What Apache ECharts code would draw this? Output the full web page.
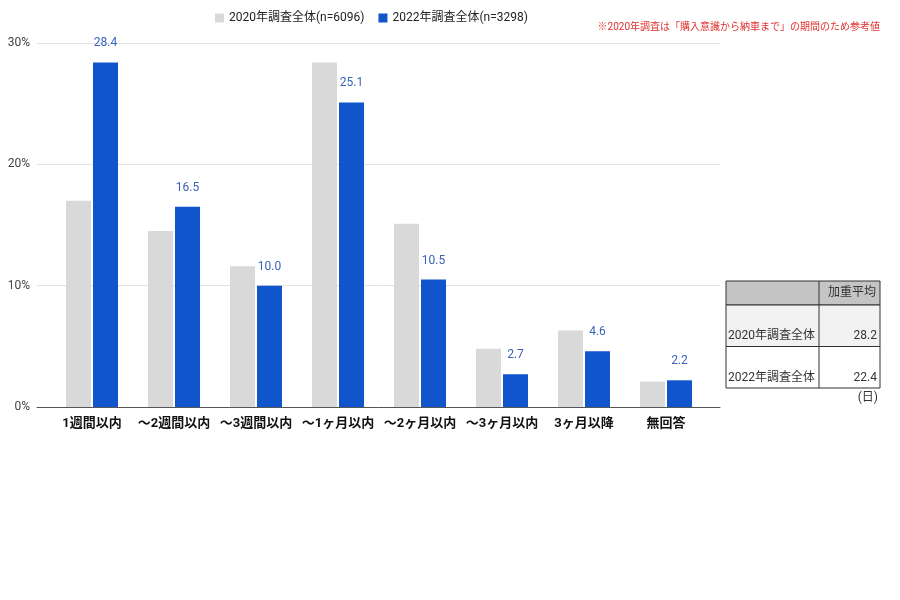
<!DOCTYPE html>
<html>
<head>
<meta charset="utf-8">
<script src="https://cdn.jsdelivr.net/npm/echarts@6/dist/echarts.min.js"></script>
<style>
html, body { margin: 0; padding: 0; background: #fff; }
#main { width: 900px; height: 600px; }
</style>
</head>
<body>
<div id="main"></div>
<script>
const categories = ['1週間以内', '～2週間以内', '～3週間以内', '～1ヶ月以内', '～2ヶ月以内', '～3ヶ月以内', '3ヶ月以降', '無回答'];
const seriesNames = ['2020年調査全体(n=6096)', '2022年調査全体(n=3298)'];
const values2020 = [17.0, 14.5, 11.6, 28.4, 15.1, 4.8, 6.3, 2.1];
const values2022 = [28.4, 16.5, 10.0, 25.1, 10.5, 2.7, 4.6, 2.2];
const yTicks = [0, 10, 20, 30];

const tableHeader = '加重平均';
const tableRows = ['2020年調査全体', '2022年調査全体'];
const tableValues = [28.2, 22.4];
const noteText = '※2020年調査は「購入意識から納車まで」の期間のため参考値';

const font = 'Roboto, "Noto Sans CJK JP", sans-serif';

displayChart();

function buildTable() {
    let x0 = 726, x1 = 819, x2 = 880;
    let y0 = 281, hHead = 24, hRow = 41.5;
    let items = [];
    items.push({ type: 'rect', shape: { x: x0, y: y0, width: x2 - x0, height: hHead },
        style: { fill: '#c4c4c4', stroke: '#333', lineWidth: 1 } });
    items.push({ type: 'text', style: { x: x2 - 4, y: y0 + hHead / 2, text: tableHeader,
        align: 'right', verticalAlign: 'middle', fontSize: 12, fill: '#333', fontFamily: font } });
    tableRows.forEach(function (name, i) {
        let y = y0 + hHead + i * hRow;
        items.push({ type: 'rect', shape: { x: x0, y: y, width: x2 - x0, height: hRow },
            style: { fill: i === 0 ? '#f2f2f2' : '#fff', stroke: '#333', lineWidth: 1 } });
        items.push({ type: 'text', style: { x: x0 + 2, y: y + hRow - 4, text: name,
            align: 'left', verticalAlign: 'bottom', fontSize: 12, fill: '#333', fontFamily: font } });
        items.push({ type: 'text', style: { x: x2 - 3, y: y + hRow - 4, text: tableValues[i].toFixed(1),
            align: 'right', verticalAlign: 'bottom', fontSize: 12, fill: '#333', fontFamily: font } });
    });
    items.push({ type: 'line', shape: { x1: x1, y1: y0, x2: x1, y2: y0 + hHead + 2 * hRow },
        style: { stroke: '#333', lineWidth: 1 } });
    items.push({ type: 'text', style: { x: x2 - 2, y: 398, text: '(日)',
        align: 'right', verticalAlign: 'middle', fontSize: 12, fill: '#333', fontFamily: font } });
    items.push({ type: 'text', style: { x: 880, y: 27, text: noteText,
        align: 'right', verticalAlign: 'middle', fontSize: 10, fill: '#e0312f', fontFamily: font } });
    return items;
}

function displayChart() {
    let myChart = echarts.init(document.getElementById('main'));

    let option = {
        animation: false,
        textStyle: { fontFamily: font },
        legend: {
            top: 7,
            left: 210,
            itemWidth: 9,
            itemHeight: 9,
            itemGap: 14,
            icon: 'rect',
            textStyle: { fontSize: 12, color: '#222' },
            data: seriesNames
        },
        grid: [
            { left: 51, right: 193, top: 43, bottom: 193 },
            { left: 37, right: 180, top: 43, bottom: 193 }
        ],
        xAxis: [
            {
                type: 'category',
                gridIndex: 0,
                data: categories,
                axisTick: { show: false },
                axisLine: { show: false },
                axisLabel: { fontSize: 13, fontWeight: 'bold', color: '#111', margin: 10, interval: 0 }
            },
            {
                type: 'value',
                gridIndex: 1,
                min: 0,
                max: 1,
                axisTick: { show: false },
                axisLabel: { show: false },
                splitLine: { show: false },
                axisLine: { show: true, lineStyle: { color: '#555', width: 1 } }
            }
        ],
        yAxis: [
            {
                type: 'value',
                gridIndex: 0,
                min: yTicks[0],
                max: yTicks[yTicks.length - 1],
                interval: 10,
                axisLabel: { show: false },
                splitLine: { show: false }
            },
            {
                type: 'value',
                gridIndex: 1,
                min: yTicks[0],
                max: yTicks[yTicks.length - 1],
                interval: 10,
                axisLine: { show: false },
                axisTick: { show: false },
                axisLabel: { formatter: '{value}%', fontSize: 12, color: '#444', margin: 7 },
                splitLine: { lineStyle: { color: '#e3e3e3' } }
            }
        ],
        series: [
            {
                name: seriesNames[0],
                type: 'bar',
                xAxisIndex: 0,
                yAxisIndex: 0,
                barWidth: 25,
                barGap: '8%',
                z: 3,
                itemStyle: { color: '#d9d9d9' },
                data: values2020
            },
            {
                name: seriesNames[1],
                type: 'bar',
                xAxisIndex: 0,
                yAxisIndex: 0,
                barWidth: 25,
                z: 3,
                itemStyle: { color: '#1155cc' },
                label: {
                    show: true,
                    position: 'top',
                    distance: 13,
                    fontSize: 12,
                    color: '#3862b8',
                    formatter: function (p) { return p.value.toFixed(1); }
                },
                data: values2022
            }
        ],
        graphic: buildTable()
    };

    myChart.setOption(option);
}
</script>
</body>
</html>
